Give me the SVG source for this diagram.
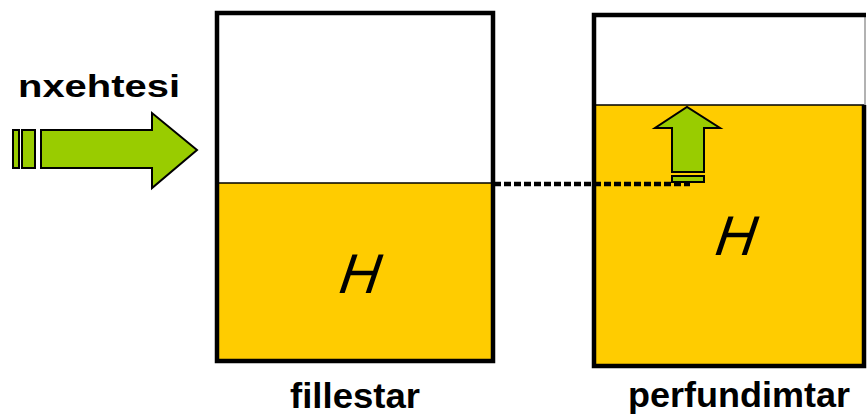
<svg xmlns="http://www.w3.org/2000/svg" width="867" height="418" viewBox="0 0 867 418">
  <style>
    .wall { fill: none; stroke: #000; stroke-width: 4.5; }
    .liquid { fill: #FFCC00; stroke: #000; stroke-width: 1.5; }
    .arrow { fill: #99CC00; stroke: #000; stroke-width: 2; stroke-linejoin: miter; }
    .label { font-family: "Liberation Sans", Arial, sans-serif; font-weight: bold; fill: #000; }
    .sym { font-family: "Liberation Sans", Arial, sans-serif; font-style: italic; fill: #000; }
    .level { fill: none; stroke: #000; stroke-width: 4.5; stroke-dasharray: 7 3; }
  </style>
  <rect width="867" height="418" fill="#fff"/>

  <!-- heat input -->
  <g id="heat">
    <text class="label" x="18" y="97" font-size="31" textLength="162" lengthAdjust="spacingAndGlyphs">nxehtesi</text>
    <rect class="arrow" x="13" y="130" width="6" height="38"/>
    <rect class="arrow" x="22" y="130" width="13" height="38"/>
    <polygon class="arrow" points="41,130 152,130 152,113 197,150 152,188 152,168 41,168"/>
  </g>

  <!-- initial state container -->
  <g id="initial">
    <rect x="217" y="183" width="276" height="178" class="liquid"/>
    <rect x="217" y="13" width="276" height="348" class="wall"/>
    <text class="sym" transform="translate(358,293) skewX(-8)" font-size="56" text-anchor="middle">H</text>
    <text class="label" x="290" y="408" font-size="35" textLength="130" lengthAdjust="spacingAndGlyphs">fillestar</text>
  </g>

  <!-- final state container -->
  <g id="final">
    <rect x="594" y="105" width="270" height="261" class="liquid"/>
    <line x1="865" y1="15" x2="865" y2="367" stroke="#999" stroke-width="1.5"/>
    <path d="M864,105 V366 H594 V15 H866" class="wall"/>
    <text class="sym" transform="translate(734,255) skewX(-8)" font-size="56" text-anchor="middle">H</text>
    <text class="label" x="628" y="407" font-size="35" textLength="222" lengthAdjust="spacingAndGlyphs">perfundimtar</text>
  </g>

  <!-- level comparison and rise -->
  <g id="connectors">
    <line class="level" x1="494" y1="184" x2="690" y2="184"/>
    <rect class="arrow" x="672" y="176" width="32" height="6"/>
    <polygon class="arrow" points="672,172 672,128 655,128 687,107 720,128 704,128 704,172"/>
  </g>
</svg>
